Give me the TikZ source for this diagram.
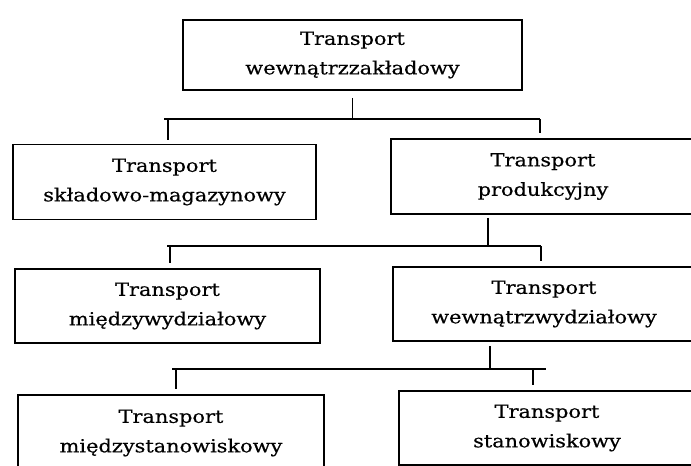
\documentclass[tikz,border=0pt]{standalone}
\usepackage{fontspec}
\setmainfont[FakeStretch=1.16,FakeBold=0.5]{DejaVu Serif}
\usetikzlibrary{positioning}

\begin{document}
\begin{tikzpicture}[x=1pt, y=-1pt, line width=1.6pt,
    every node/.style={font=\fontsize{18}{29.5}\selectfont},
    box/.style={draw, align=center, inner sep=0pt}]
    \useasboundingbox (0,0) rectangle (691,466);

    % Top level
    \node[box, minimum width=339pt, minimum height=70pt] (zakl) at (352.5,55) {Transport\\wewnątrzzakładowy};

    % Second level
    \node[box, minimum width=303pt, minimum height=75pt] (sklad) at (164.5,182) {Transport\\składowo-magazynowy};
    \node[box, minimum width=304pt, minimum height=75pt] (prod) at (543,176.5) {Transport\\produkcyjny};

    % Third level
    \node[box, minimum width=305pt, minimum height=74pt] (miedzyw) at (167.5,306) {Transport\\międzywydziałowy};
    \node[box, minimum width=302pt, minimum height=74pt] (wewnw) at (544,304) {Transport\\wewnątrzwydziałowy};

    % Fourth level
    \node[box, minimum width=306pt, minimum height=76pt] (miedzys) at (171,433) {Transport\\międzystanowiskowy};
    \node[box, minimum width=296pt, minimum height=74pt] (stan) at (547,428) {Transport\\stanowiskowy};

    % Branch points
    \coordinate (a1) at (164,119);
    \coordinate (b1) at (540,119);
    \coordinate (t1) at (168,119);
    \coordinate (a2) at (167,246);
    \coordinate (b2) at (541,246);
    \coordinate (t2) at (170,246);
    \coordinate (s2) at (488,246);
    \coordinate (a3) at (172,369);
    \coordinate (b3) at (546,369);
    \coordinate (t3) at (176,369);
    \coordinate (u3) at (533,369);
    \coordinate (s3) at (490,369);

    % Connectors
    \draw[shorten <=7pt] (zakl.south) -- (zakl.south |- a1);
    \draw (a1) -- (b1);
    \draw[shorten >=4pt] (t1) -- (t1 |- sklad.north);
    \draw[shorten >=5pt] (b1) -- (b1 |- prod.north);

    \draw[shorten <=3pt] (s2 |- prod.south) -- (s2);
    \draw (a2) -- (b2);
    \draw[shorten >=5pt] (t2) -- (t2 |- miedzyw.north);
    \draw[shorten >=5pt] (b2) -- (b2 |- wewnw.north);

    \draw[shorten <=4pt] (s3 |- wewnw.south) -- (s3);
    \draw (a3) -- (b3);
    \draw[shorten >=5pt] (t3) -- (t3 |- miedzys.north);
    \draw[shorten >=5pt] (u3) -- (u3 |- stan.north);
\end{tikzpicture}
\end{document}
